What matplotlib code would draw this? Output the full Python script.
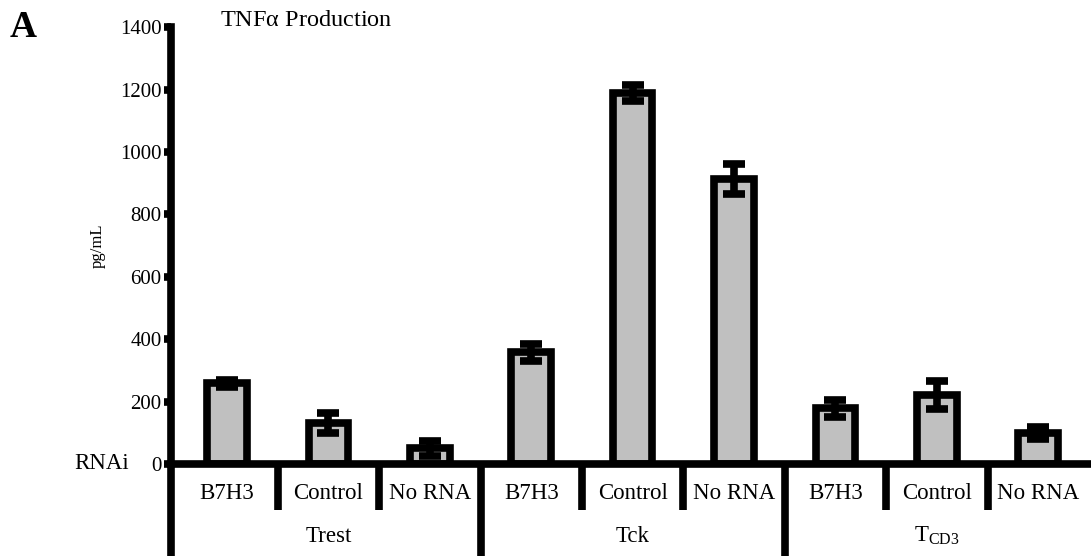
import numpy as np
from matplotlib import pyplot as plt

plt.rcParams['font.family'] = ['Liberation Serif', 'DejaVu Serif']

# data
groups = ['Trest', 'Tck', r'T$_{\mathregular{CD3}}$']
rnai = ['B7H3', 'Control', 'No RNA']
tnf_mean = [258, 132, 50, 358, 1190, 915, 178, 220, 100]
tnf_err = [12, 32, 25, 28, 25, 48, 28, 45, 20]


def main():
    fig = plt.figure(figsize=(10.91, 5.56), dpi=100)
    ax = fig.add_axes([0.157, 0.1655, 0.843, 0.7855])

    x = np.arange(len(tnf_mean))
    lw = 5.5
    ax.bar(x, tnf_mean, width=0.39, color='#c0c0c0', edgecolor='black',
           linewidth=lw, zorder=2)
    ax.errorbar(x, tnf_mean, yerr=tnf_err, fmt='none', ecolor='black',
                elinewidth=lw, capsize=8, capthick=lw, zorder=3)

    left, right = -0.55, 8.52
    ax.set_xlim(left, right)
    ax.set_ylim(0, 1400)
    ax.set_yticks(np.arange(0, 1401, 200))
    ax.set_xticks([])

    # axis formatting
    ax.spines['top'].set_visible(False)
    ax.spines['right'].set_visible(False)
    for s in ['left', 'bottom']:
        ax.spines[s].set_linewidth(lw)
        ax.spines[s].set_capstyle('projecting')
    ax.tick_params(axis='y', length=5, width=lw, labelsize=15, pad=2)
    ax.set_ylabel('pg/mL', fontsize=12, labelpad=10)

    # category table below the axis
    tr = ax.get_xaxis_transform()
    ax.plot([left, left], [0, -0.215], color='black', lw=lw,
            transform=tr, clip_on=False, solid_capstyle='butt')
    for i in range(len(tnf_mean) - 1):
        xd = i + 0.5
        bottom = -0.215 if i % 3 == 2 else -0.105
        ax.plot([xd, xd], [0, bottom], color='black', lw=lw,
                transform=tr, clip_on=False, solid_capstyle='butt')
    for i in range(len(tnf_mean)):
        ax.text(i, -0.068, rnai[i % 3], transform=tr, ha='center',
                va='center', fontsize=16.5)
    for g, name in enumerate(groups):
        ax.text(3 * g + 1, -0.165, name, transform=tr, ha='center',
                va='center', fontsize=16.5)
    ax.text(-1.24, -0.0, 'RNAi', transform=tr, ha='center', va='center',
            fontsize=16.5)

    fig.text(0.009, 0.95, 'A', fontsize=27, fontweight='bold', va='center')
    fig.text(0.202, 0.963, r'TNF$\mathregular{\alpha}$ Production',
             fontsize=17.5, va='center')

    fig.savefig('out.png', dpi=100)


if __name__ == '__main__':
    main()
